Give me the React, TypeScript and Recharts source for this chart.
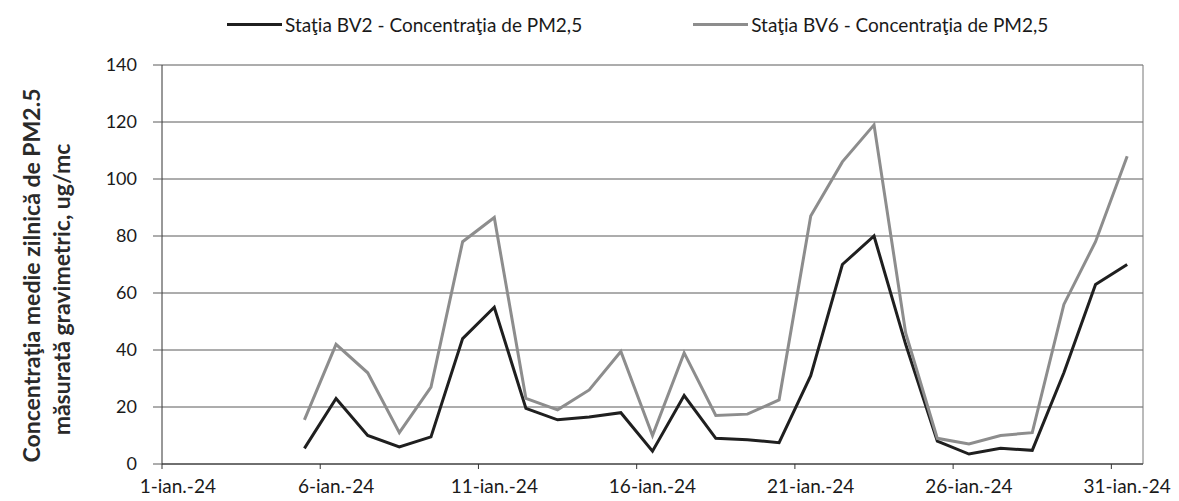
import React from 'react';
import { LineChart, Line, XAxis, YAxis, CartesianGrid, Legend, ReferenceLine } from 'recharts';

// zilele din ianuarie 2024 pentru care avem masuratori
const days = [5, 6, 7, 8, 9, 10, 11, 12, 13, 14, 15, 16, 17, 18, 19, 20, 21, 22, 23, 24, 25, 26, 27, 28, 29, 30, 31];
const bv2 = [5.5, 23, 10, 6, 9.5, 44, 55, 19.5, 15.5, 16.5, 18, 4.5, 24, 9, 8.5, 7.5, 31, 70, 80, 42, 8, 3.5, 5.5, 4.8, 32, 63, 70];
const bv6 = [15.5, 42, 32, 11, 27, 78, 86.5, 23, 19, 26, 39.5, 10, 39, 17, 17.5, 22.5, 87, 106, 119, 46, 9, 7, 10, 11, 56, 78, 108];

const tickDays = [1, 6, 11, 16, 21, 26, 31];
const yTicks = [0, 20, 40, 60, 80, 100, 120, 140];
const seriesNames = ['Staţia BV2 - Concentraţia de PM2,5', 'Staţia BV6 - Concentraţia de PM2,5'];
const yTitle = ['Concentraţia medie zilnică de PM2.5', 'măsurată gravimetric, ug/mc'];

const data = days.map((d, i) => ({ day: d, bv2: bv2[i], bv6: bv6[i] }));

const W = 1179;
const H = 501;
const LEFT = 162;
const RIGHT = 36;
const PLOT_W = W - LEFT - RIGHT;
const HALF_SLOT = PLOT_W / 31 / 2;
const FONT = 'Lato, sans-serif';
const TICK_LEN = 5;
const TICK_GAP = 11;

const DateTick = (props: any) => {
  const { x, y, payload } = props;
  const axisY = y - TICK_LEN - TICK_GAP;
  return (
    <g>
      <line x1={x - HALF_SLOT} x2={x - HALF_SLOT} y1={axisY} y2={axisY + TICK_LEN} stroke="#333" />
      <text x={x} y={y} dy="0.71em" textAnchor="middle" fill="#1a1a1a" fontSize={19} fontFamily={FONT}>
        {`${payload.value}-ian.-24`}
      </text>
    </g>
  );
};

const YTitle = (props: any) => {
  const cy = props.viewBox ? props.viewBox.y + props.viewBox.height / 2 : 265;
  return (
    <g fontFamily={FONT} fontSize={23} fontWeight="bold" fill="#2a2a2a" textAnchor="middle">
      <text transform={`translate(40, ${cy + 11}) rotate(-90)`}>{yTitle[0]}</text>
      <text transform={`translate(70, ${cy + 25}) rotate(-90)`}>{yTitle[1]}</text>
    </g>
  );
};

const LegendRow = (props: any) => {
  const items = props.payload || [];
  return (
    <div style={{ display: 'flex', gap: 111, fontFamily: FONT, fontSize: 19, color: '#1a1a1a' }}>
      {items.map((it: any) => (
        <div key={it.value} style={{ display: 'flex', alignItems: 'center' }}>
          <span style={{ display: 'inline-block', width: 55, height: 0, borderTop: `3px solid ${it.color}`, marginRight: 3 }} />
          <span>{it.value}</span>
        </div>
      ))}
    </div>
  );
};

export default function App() {
  return (
    <div style={{ position: 'absolute', left: 0, top: 0, background: '#fff' }}>
      <LineChart width={W} height={H} data={data} margin={{ top: 65, right: RIGHT, bottom: 0, left: 0 }}>
        <CartesianGrid vertical={false} stroke="#5a5a5a" />
        <XAxis
          dataKey="day"
          type="number"
          domain={[0.5, 31.5]}
          ticks={tickDays}
          interval={0}
          height={37}
          tickLine={false}
          tickSize={TICK_LEN}
          tickMargin={TICK_GAP}
          axisLine={{ stroke: '#333' }}
          tick={<DateTick />}
        />
        <YAxis
          width={LEFT}
          domain={[0, 140]}
          ticks={yTicks}
          interval={0}
          tickSize={9}
          tickMargin={16}
          axisLine={{ stroke: '#333' }}
          tickLine={{ stroke: '#5a5a5a' }}
          tick={{ fill: '#1a1a1a', fontSize: 18, fontFamily: FONT }}
          label={{ content: <YTitle /> }}
        />
        <ReferenceLine x={31.5} stroke="#777" />
        <Legend
          layout="horizontal"
          verticalAlign="middle"
          align="center"
          wrapperStyle={{ top: 13, left: 227, width: 900 }}
          content={<LegendRow />}
        />
        <Line
          type="linear"
          dataKey="bv2"
          name={seriesNames[0]}
          stroke="#1f1f1f"
          strokeWidth={3}
          dot={false}
          isAnimationActive={false}
        />
        <Line
          type="linear"
          dataKey="bv6"
          name={seriesNames[1]}
          stroke="#8d8d8d"
          strokeWidth={3}
          dot={false}
          isAnimationActive={false}
        />
      </LineChart>
    </div>
  );
}
